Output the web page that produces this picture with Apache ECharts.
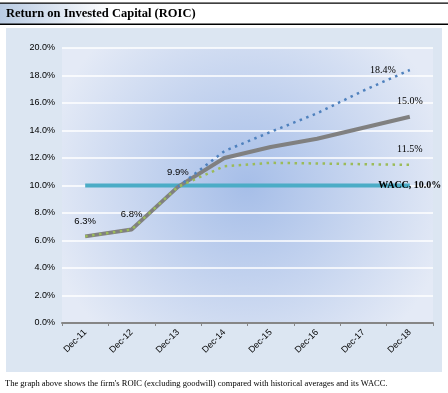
<!DOCTYPE html>
<html>
<head>
<meta charset="utf-8">
<script src="https://cdn.jsdelivr.net/npm/echarts@6/dist/echarts.min.js"></script>
<style>
html,body{margin:0;padding:0;background:#fff;}
#c{width:448px;height:393px;}
</style>
</head>
<body>
<div id="c"></div>
<script>
var categories = ['Dec-11','Dec-12','Dec-13','Dec-14','Dec-15','Dec-16','Dec-17','Dec-18'];
var roic = [6.3, 6.8, 9.9, 12.0, 12.8, 13.4, 14.2, 15.0];
var histAvgHigh = [null, null, 9.9, 12.5, 13.9, 15.25, 16.9, 18.4];
var histAvgLow = [6.3, 6.8, 9.9, 11.4, 11.65, 11.6, 11.55, 11.5];
var wacc = [10.0, 10.0, 10.0, 10.0, 10.0, 10.0, 10.0, 10.0];
var yTicks = [0, 2, 4, 6, 8, 10, 12, 14, 16, 18, 20];

var sansFont = 'Liberation Sans';
var serifFont = 'Liberation Serif';

function pct(v){ return v.toFixed(1) + '%'; }

var roicData = roic.map(function(v, i){
  var item = {value: v};
  if (i <= 2) {
    item.label = {show: true, position: 'top', distance: 10, formatter: function(p){return pct(p.value);},
      fontFamily: sansFont, fontSize: 9.5, color: '#000'};
  } else if (i === roic.length - 1) {
    item.label = {show: true, position: 'top', distance: 10, formatter: function(p){return pct(p.value);},
      fontFamily: serifFont, fontSize: 10, color: '#000'};
  }
  return item;
});
function lastLabel(arr, labelCfg){
  return arr.map(function(v, i){
    var item = {value: v};
    if (i === arr.length - 1) item.label = labelCfg;
    return item;
  });
}

var chart = echarts.init(document.getElementById('c'), null, {renderer: 'canvas'});
chart.setOption({
  animation: false,
  backgroundColor: '#ffffff',
  graphic: [
    {type: 'rect', z: -10, shape: {x: 0, y: 3, width: 448, height: 21},
      style: {fill: {type: 'linear', x: 0, y: 0, x2: 1, y2: 0,
        colorStops: [{offset: 0, color: '#b9cbe3'}, {offset: 0.25, color: '#ffffff'}, {offset: 1, color: '#ffffff'}]}}},
    {type: 'rect', z: -9, shape: {x: 0, y: 2.5, width: 448, height: 1.2}, style: {fill: '#000'}},
    {type: 'rect', z: -9, shape: {x: 0, y: 23.5, width: 448, height: 1.6}, style: {fill: '#000'}},
    {type: 'text', left: 6, top: 7, style: {text: 'Return on Invested Capital (ROIC)', fontFamily: serifFont,
      fontWeight: 'bold', fontSize: 12.5, fill: '#000'}},
    {type: 'rect', z: -10, shape: {x: 6, y: 28, width: 436, height: 344}, style: {fill: '#dce6f2'}},
    {type: 'text', left: 5, top: 379, style: {text: "The graph above shows the firm's ROIC (excluding goodwill) compared with historical averages and its WACC.",
      fontFamily: serifFont, fontSize: 8.5, fill: '#000'}}
  ],
  grid: {left: 62, right: 15, top: 48, bottom: 70, show: true, borderWidth: 0,
    backgroundColor: {type: 'radial', x: 0.5, y: 0.5, r: 0.75,
      colorStops: [{offset: 0, color: '#a6bee8'}, {offset: 1, color: '#e4eaf6'}]}},
  xAxis: {
    type: 'category', data: categories, boundaryGap: true,
    axisLine: {lineStyle: {color: '#868686', width: 2}},
    axisTick: {show: true, length: 3, lineStyle: {color: '#868686', width: 1}},
    axisLabel: {rotate: 45, fontFamily: sansFont, fontSize: 9, color: '#000', margin: 8}
  },
  yAxis: {
    type: 'value', min: yTicks[0], max: yTicks[yTicks.length - 1], interval: 2,
    axisLine: {show: false}, axisTick: {show: false},
    splitLine: {lineStyle: {color: '#ffffff', width: 1.5}},
    axisLabel: {formatter: function(v){ return pct(v); }, fontFamily: sansFont, fontSize: 9, color: '#000', margin: 7}
  },
  series: [
    {name: 'WACC', type: 'line', data: lastLabel(wacc, {show: true, position: 'inside',
        formatter: 'WACC, 10.0%', fontFamily: serifFont, fontWeight: 'bold', fontSize: 10, color: '#000'}),
      showSymbol: true, symbolSize: 0, lineStyle: {color: '#4bacc6', width: 4}, itemStyle: {color: '#4bacc6'}, z: 2},
    {name: 'ROIC', type: 'line', data: roicData, showSymbol: true, symbolSize: 0,
      lineStyle: {color: '#808080', width: 4}, itemStyle: {color: '#808080'}, z: 3},
    {name: 'High', type: 'line', data: lastLabel(histAvgHigh, {show: true, position: 'left', distance: 14,
        formatter: function(p){return pct(p.value);}, fontFamily: serifFont, fontSize: 10, color: '#000'}),
      showSymbol: true, symbolSize: 0, connectNulls: false,
      lineStyle: {color: '#4f81bd', width: 2.5, type: [2.5, 4.5]}, itemStyle: {color: '#4f81bd'}, z: 4},
    {name: 'Low', type: 'line', data: lastLabel(histAvgLow, {show: true, position: 'top', distance: 11,
        formatter: function(p){return pct(p.value);}, fontFamily: serifFont, fontSize: 10, color: '#000'}),
      showSymbol: true, symbolSize: 0,
      lineStyle: {color: '#9bbb59', width: 2.5, type: [2.5, 4.5]}, itemStyle: {color: '#9bbb59'}, z: 5}
  ]
});
</script>
</body>
</html>
